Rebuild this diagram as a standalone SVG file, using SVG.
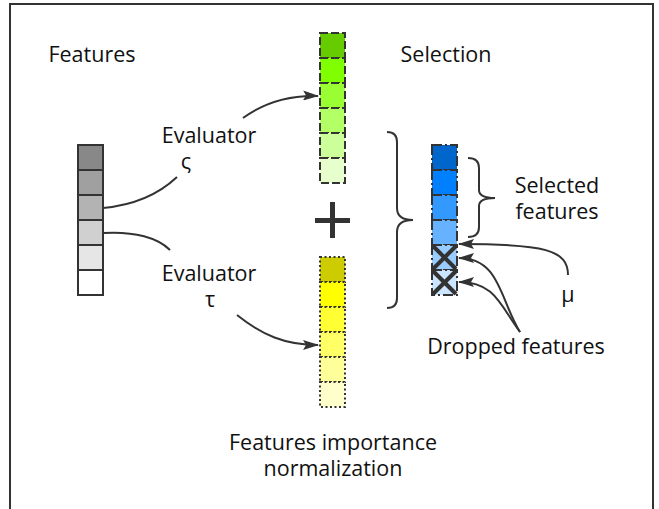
<svg xmlns="http://www.w3.org/2000/svg" width="659" height="509" viewBox="0 0 659 509">
<defs>
<style>
text{font-family:"Open Sans","Noto Sans","Liberation Sans",sans-serif;font-size:21.5px;fill:#111;text-anchor:middle}
.cell{stroke:#333;stroke-width:2}
.g{stroke-dasharray:8 3}
.y{stroke-dasharray:2 2.5}
.b{stroke-dasharray:10 3 2 3}
.conn{fill:none;stroke:#333;stroke-width:2}
.brace{fill:none;stroke:#333;stroke-width:2}
.xm{stroke:#333;stroke-width:4}
</style>
<marker id="arr" viewBox="0 0 16 10" refX="15" refY="5" markerWidth="16" markerHeight="10" markerUnits="userSpaceOnUse" orient="auto">
<path d="M0,0 L16,5 L0,10 L3,5 z" fill="#333"/>
</marker>
</defs>
<rect x="0" y="0" width="659" height="509" fill="#fff"/>
<path d="M10,512 V4 H653 V512" fill="none" stroke="#333" stroke-width="2"/>

<g id="features-label"><text x="92" y="62">Features</text></g>
<g id="selection-label"><text x="446" y="62">Selection</text></g>

<g id="features-column">
<rect class="cell" x="78" y="145" width="25" height="25" fill="#888"/>
<rect class="cell" x="78" y="170" width="25" height="25" fill="#a0a0a0"/>
<rect class="cell" x="78" y="195" width="25" height="25" fill="#b3b3b3"/>
<rect class="cell" x="78" y="220" width="25" height="25" fill="#d0d0d0"/>
<rect class="cell" x="78" y="245" width="25" height="25" fill="#e6e6e6"/>
<rect class="cell" x="78" y="270" width="25" height="25" fill="#fff"/>
</g>

<g id="evaluator-s"><text x="209" y="143">Evaluator</text><text x="186" y="169">ς</text></g>
<g id="evaluator-t"><text x="209" y="281">Evaluator</text><text x="210" y="307">τ</text></g>

<g id="green-column">
<rect class="cell g" x="320" y="33" width="25" height="25" fill="#66cc00"/>
<rect class="cell g" x="320" y="58" width="25" height="25" fill="#80ff00"/>
<rect class="cell g" x="320" y="83" width="25" height="25" fill="#99ff33"/>
<rect class="cell g" x="320" y="108" width="25" height="25" fill="#b3ff66"/>
<rect class="cell g" x="320" y="133" width="25" height="25" fill="#ccff99"/>
<rect class="cell g" x="320" y="158" width="25" height="25" fill="#e6ffcc"/>
</g>

<g id="plus">
<rect x="330" y="202" width="5" height="36" fill="#333"/>
<rect x="315" y="218" width="35" height="5" fill="#333"/>
</g>

<g id="yellow-column">
<rect class="cell y" x="320" y="257" width="25" height="25" fill="#cccc00"/>
<rect class="cell y" x="320" y="282" width="25" height="25" fill="#ffff00"/>
<rect class="cell y" x="320" y="307" width="25" height="25" fill="#ffff33"/>
<rect class="cell y" x="320" y="332" width="25" height="25" fill="#ffff66"/>
<rect class="cell y" x="320" y="357" width="25" height="25" fill="#ffff99"/>
<rect class="cell y" x="320" y="382" width="25" height="25" fill="#ffffcc"/>
</g>

<g id="normalization-label"><text x="333" y="450">Features importance</text><text x="333" y="476">normalization</text></g>

<g id="big-brace"><path class="brace" d="M387,132 Q397,132 397,142 V208 Q397,220 413,220 Q397,220 397,232 V298 Q397,308 387,308"/></g>

<g id="blue-column">
<rect class="cell b" x="432" y="145" width="25" height="25" fill="#0066cc"/>
<rect class="cell b" x="432" y="170" width="25" height="25" fill="#007fff"/>
<rect class="cell b" x="432" y="195" width="25" height="25" fill="#3399ff"/>
<rect class="cell b" x="432" y="220" width="25" height="25" fill="#66b2ff"/>
<rect class="cell b" x="432" y="245" width="25" height="25" fill="#99ccff"/>
<rect class="cell b" x="432" y="270" width="25" height="25" fill="#cce5ff"/>
<line class="xm" x1="433" y1="246" x2="456" y2="269"/>
<line class="xm" x1="456" y1="246" x2="433" y2="269"/>
<line class="xm" x1="433" y1="271" x2="456" y2="294"/>
<line class="xm" x1="456" y1="271" x2="433" y2="294"/>
</g>

<g id="small-brace"><path class="brace" d="M468,158 Q479,158 479,168 V190 Q479,198 495,198 Q479,198 479,206 V227 Q479,237 468,237"/></g>
<g id="selected-label"><text x="557" y="193">Selected</text><text x="557" y="219">features</text></g>
<g id="mu-label"><text x="568" y="302">μ</text></g>
<g id="dropped-label"><text x="516" y="354">Dropped features</text></g>

<g id="connectors">
<path class="conn" d="M103,208 C135,205 160,193 177,177"/>
<path class="conn" d="M103,233 C135,231 158,238 170,250"/>
<path class="conn" marker-end="url(#arr)" d="M243,118 C265,102 290,95 318,96"/>
<path class="conn" marker-end="url(#arr)" d="M237,315 C262,335 285,345 318,345"/>
<path class="conn" marker-end="url(#arr)" d="M568,275 C568,250 545,244 459,244"/>
<path class="conn" marker-end="url(#arr)" d="M520,332 C500,300 500,258 459,258"/>
<path class="conn" marker-end="url(#arr)" d="M520,332 C500,305 495,282 459,282"/>
</g>
</svg>
